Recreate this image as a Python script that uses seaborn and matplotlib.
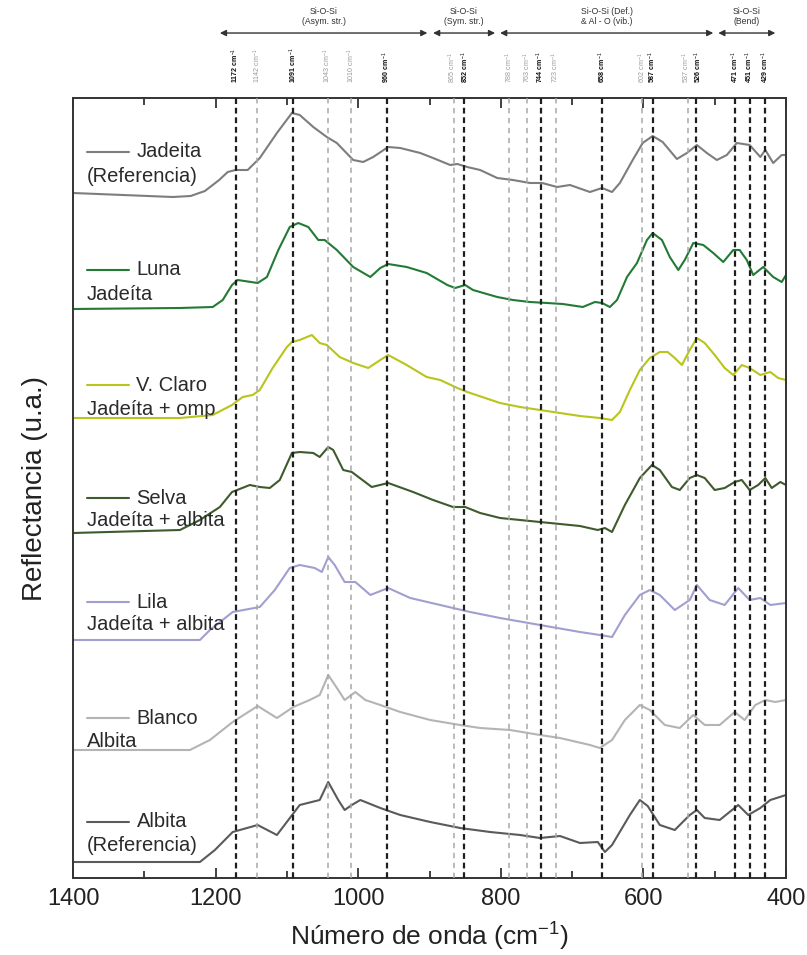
import matplotlib
matplotlib.use("Agg")
import matplotlib.pyplot as plt
import seaborn as sns

# ---- spectra (wavenumber in cm-1, reflectance in arbitrary units, stacked) ----
jad_ref_wn = [1400, 1330, 1260, 1235, 1215, 1195, 1183, 1172, 1155, 1138, 1114, 1093, 1082, 1063,
              1044, 1030, 1007, 993, 979, 958, 941, 913, 895, 871, 861, 847, 829, 805, 783, 759,
              742, 721, 703, 675, 658, 644, 633, 615, 601, 587, 573, 553, 539, 525, 511, 497,
              483, 469, 451, 436, 429, 418, 406, 400]
jad_ref_r = [6.85, 6.83, 6.81, 6.82, 6.87, 6.98, 7.06, 7.08, 7.08, 7.20, 7.45, 7.65, 7.63, 7.51,
             7.41, 7.35, 7.18, 7.16, 7.21, 7.31, 7.30, 7.25, 7.20, 7.13, 7.14, 7.11, 7.08, 7.00,
             6.98, 6.95, 6.95, 6.91, 6.93, 6.86, 6.90, 6.86, 6.95, 7.18, 7.35, 7.42, 7.36, 7.19,
             7.25, 7.33, 7.25, 7.18, 7.23, 7.35, 7.33, 7.21, 7.28, 7.15, 7.23, 7.23]

luna_wn = [1400, 1250, 1204, 1190, 1177, 1169, 1141, 1128, 1112, 1096, 1084, 1070, 1056, 1047,
           1030, 1007, 983, 969, 958, 932, 904, 875, 864, 850, 839, 805, 783, 759, 735, 713,
           685, 668, 658, 647, 637, 623, 609, 595, 587, 574, 563, 551, 542, 530, 516, 502,
           488, 474, 465, 455, 446, 432, 418, 406, 400]
luna_r = [5.69, 5.70, 5.71, 5.78, 5.93, 5.98, 5.95, 6.01, 6.28, 6.51, 6.55, 6.51, 6.38, 6.38,
          6.28, 6.11, 6.01, 6.10, 6.14, 6.11, 6.05, 5.93, 5.90, 5.93, 5.88, 5.81, 5.78, 5.76,
          5.75, 5.74, 5.71, 5.76, 5.75, 5.71, 5.78, 6.01, 6.15, 6.38, 6.45, 6.38, 6.21, 6.08,
          6.18, 6.35, 6.33, 6.25, 6.16, 6.28, 6.28, 6.18, 6.03, 6.11, 6.01, 5.96, 6.03]

claro_wn = [1400, 1250, 1204, 1177, 1162, 1148, 1138, 1120, 1100, 1093, 1082, 1065, 1054, 1044,
            1026, 1007, 986, 969, 958, 932, 904, 885, 861, 847, 801, 773, 745, 717, 689, 661,
            644, 633, 619, 605, 591, 577, 566, 556, 546, 535, 525, 514, 500, 486, 474, 462,
            451, 436, 422, 411, 400]
claro_r = [4.60, 4.60, 4.63, 4.73, 4.81, 4.83, 4.88, 5.10, 5.31, 5.36, 5.38, 5.43, 5.35, 5.33,
           5.21, 5.15, 5.10, 5.18, 5.23, 5.13, 5.01, 4.98, 4.90, 4.86, 4.75, 4.71, 4.68, 4.65,
           4.62, 4.60, 4.58, 4.66, 4.88, 5.08, 5.20, 5.26, 5.26, 5.20, 5.13, 5.28, 5.40, 5.35,
           5.23, 5.10, 5.03, 5.13, 5.10, 5.03, 5.06, 5.00, 4.98]

selva_wn = [1400, 1250, 1222, 1194, 1177, 1152, 1138, 1124, 1110, 1093, 1082, 1063, 1054, 1042,
            1035, 1021, 1009, 981, 958, 923, 895, 867, 850, 829, 801, 773, 745, 717, 689, 664,
            654, 644, 626, 605, 588, 577, 560, 549, 535, 525, 514, 500, 486, 472, 462, 451,
            439, 429, 420, 408, 400]
selva_r = [3.45, 3.48, 3.58, 3.71, 3.86, 3.93, 3.91, 3.90, 3.98, 4.25, 4.26, 4.25, 4.21, 4.31,
           4.28, 4.08, 4.06, 3.91, 3.95, 3.86, 3.78, 3.71, 3.71, 3.65, 3.60, 3.58, 3.56, 3.54,
           3.52, 3.48, 3.50, 3.46, 3.73, 4.00, 4.13, 4.08, 3.91, 3.88, 4.00, 4.03, 4.00, 3.88,
           3.90, 3.96, 3.98, 3.88, 3.93, 4.00, 3.90, 3.96, 3.93]

lila_wn = [1400, 1222, 1208, 1176, 1138, 1117, 1096, 1082, 1061, 1051, 1042, 1033, 1019, 1004,
           983, 958, 927, 885, 843, 801, 745, 689, 661, 644, 626, 605, 591, 577, 556, 535,
           525, 507, 486, 467, 451, 436, 422, 400]
lila_r = [2.38, 2.38, 2.48, 2.66, 2.71, 2.88, 3.10, 3.13, 3.10, 3.06, 3.21, 3.13, 2.96, 2.96,
          2.83, 2.90, 2.80, 2.73, 2.66, 2.60, 2.53, 2.46, 2.43, 2.41, 2.63, 2.83, 2.88, 2.83,
          2.68, 2.78, 2.93, 2.78, 2.73, 2.90, 2.78, 2.80, 2.73, 2.75]

blanco_wn = [1400, 1236, 1208, 1176, 1141, 1114, 1091, 1068, 1054, 1042, 1028, 1019, 1004, 990,
             969, 941, 899, 857, 829, 787, 745, 717, 675, 661, 644, 626, 605, 591, 570, 549,
             530, 514, 493, 472, 458, 443, 429, 415, 400]
blanco_r = [1.28, 1.28, 1.38, 1.56, 1.72, 1.60, 1.71, 1.78, 1.83, 2.03, 1.88, 1.78, 1.86, 1.78,
            1.73, 1.66, 1.58, 1.53, 1.50, 1.48, 1.43, 1.40, 1.33, 1.30, 1.38, 1.58, 1.73, 1.68,
            1.53, 1.50, 1.63, 1.53, 1.53, 1.66, 1.58, 1.73, 1.78, 1.76, 1.78]

alb_ref_wn = [1400, 1222, 1201, 1176, 1141, 1114, 1082, 1054, 1042, 1028, 1019, 1009, 997, 969,
              941, 899, 857, 815, 773, 745, 717, 689, 664, 654, 644, 619, 605, 594, 577, 556,
              535, 525, 514, 493, 467, 453, 436, 422, 400]
alb_ref_r = [0.16, 0.16, 0.28, 0.46, 0.53, 0.43, 0.73, 0.78, 0.96, 0.78, 0.68, 0.73, 0.78, 0.70,
             0.63, 0.56, 0.50, 0.46, 0.43, 0.40, 0.42, 0.35, 0.36, 0.26, 0.33, 0.63, 0.78, 0.72,
             0.53, 0.48, 0.63, 0.68, 0.60, 0.58, 0.73, 0.63, 0.70, 0.78, 0.83]

series_title = ["Jadeita", "Luna", "V. Claro", "Selva", "Lila", "Blanco", "Albita"]
series_sub = ["(Referencia)", "Jadeíta", "Jadeíta + omp", "Jadeíta + albita",
              "Jadeíta + albita", "Albita", "(Referencia)"]
series_colors = ["#7d7d7d", "#237a35", "#b9c41c", "#3f5a2c", "#a19fd0", "#b4b4b4", "#5a5a5a"]

# ---- band assignments ----
band_wn = [1172, 1142, 1091, 1043, 1010, 960, 865, 852, 788, 763, 744, 723,
           658, 602, 587, 537, 526, 471, 451, 429]
band_strong = [True, False, True, False, False, True, False, True, False, False, True, False,
               True, False, True, False, True, True, True, True]
# small sideways nudge (cm-1) for labels of closely spaced bands
band_label_shift = {865: 2.5, 852: -2.5, 537: 2.5, 526: -2.5}

group_text = ["Si-O-Si\n(Asym. str.)", "Si-O-Si\n(Sym. str.)",
              "Si-O-Si (Def.)\n& Al - O (vib.)", "Si-O-Si\n(Bend)"]
group_lo = [1194, 895, 801, 495]
group_hi = [903, 808, 502, 415]

sns.set_style("ticks")
plt.rcParams["font.family"] = ["Liberation Sans", "DejaVu Sans"]
plt.rcParams["mathtext.fontset"] = "custom"
plt.rcParams["mathtext.rm"] = "Liberation Sans"
plt.rcParams["mathtext.it"] = "Liberation Sans"
plt.rcParams["mathtext.bf"] = "Liberation Sans:bold"

fig = plt.figure(figsize=(8.07, 9.55), dpi=100)
ax = fig.add_axes([73 / 807, 1 - 878 / 955, 713 / 807, 780 / 955])

spectra = [(jad_ref_wn, jad_ref_r), (luna_wn, luna_r), (claro_wn, claro_r),
           (selva_wn, selva_r), (lila_wn, lila_r), (blanco_wn, blanco_r),
           (alb_ref_wn, alb_ref_r)]
for (wn, r), col in zip(spectra, series_colors):
    sns.lineplot(x=wn, y=r, ax=ax, color=col, linewidth=1.5, estimator=None, zorder=2)

# vertical band markers
for w, strong in zip(band_wn, band_strong):
    if strong:
        ax.axvline(w, color="#1e1e1e", lw=1.6, dashes=(2.6, 1.7), zorder=3)
    else:
        ax.axvline(w, color="#a8a8a8", lw=1.1, dashes=(3.5, 3.0), zorder=3)

ax.set_xlim(1400, 400)
ax.set_ylim(0, 7.8)
ax.set_yticks([])
ax.set_xticks([1400, 1200, 1000, 800, 600, 400])
ax.set_xticks([1300, 1100, 900, 700, 500], minor=True)
ax.tick_params(axis="x", which="major", direction="in", length=7, width=1.2,
               top=True, labelsize=17, pad=7, colors="#222222")
ax.tick_params(axis="x", which="minor", direction="in", length=5, width=1.2, top=True,
               colors="#222222")
for sp in ax.spines.values():
    sp.set_linewidth(1.4)
    sp.set_color("#333333")

ax.set_xlabel("Número de onda (cm$^{-1}$)", fontsize=19, color="#222222", labelpad=8)
ax.set_ylabel("Reflectancia (u.a.)", fontsize=20, color="#222222", labelpad=18)

# series labels with line samples
label_rows = [(0.9308, 0.900), (0.7795, 0.7487), (0.632, 0.601), (0.487, 0.4577),
              (0.3538, 0.3244), (0.205, 0.1744), (0.0718, 0.0423)]
for (y1, y2), title, sub, col in zip(label_rows, series_title, series_sub, series_colors):
    ax.plot([0.020, 0.079], [y1, y1], transform=ax.transAxes, color=col, lw=1.5,
            clip_on=False, zorder=4)
    ax.text(0.089, y1, title, transform=ax.transAxes, fontsize=14.5, color="#2a2a2a",
            va="center", ha="left", zorder=4)
    ax.text(0.019, y2, sub, transform=ax.transAxes, fontsize=14.5, color="#2a2a2a",
            va="center", ha="left", zorder=4)

# band labels above the frame
xt = ax.get_xaxis_transform()
for w, strong in zip(band_wn, band_strong):
    ax.text(w + band_label_shift.get(w, 0.0), 1.0195, f"{w} cm$^{{-1}}$", transform=xt,
            rotation=90, ha="center", va="bottom", fontsize=5.1,
            color="#111111" if strong else "#9a9a9a",
            fontweight="bold" if strong else "normal", clip_on=False)

# vibration group arrows
for txt, lo, hi in zip(group_text, group_lo, group_hi):
    ax.annotate("", xy=(hi, 1.0833), xytext=(lo, 1.0833), xycoords=xt, textcoords=xt,
                arrowprops=dict(arrowstyle="<|-|>", color="#333333", lw=1.0,
                                mutation_scale=9, shrinkA=0, shrinkB=0))
    ax.text((lo + hi) / 2, 1.0925, txt, transform=xt, ha="center", va="bottom",
            fontsize=6.2, color="#333333", linespacing=1.1, clip_on=False)

fig.savefig("out.png", dpi=100)
